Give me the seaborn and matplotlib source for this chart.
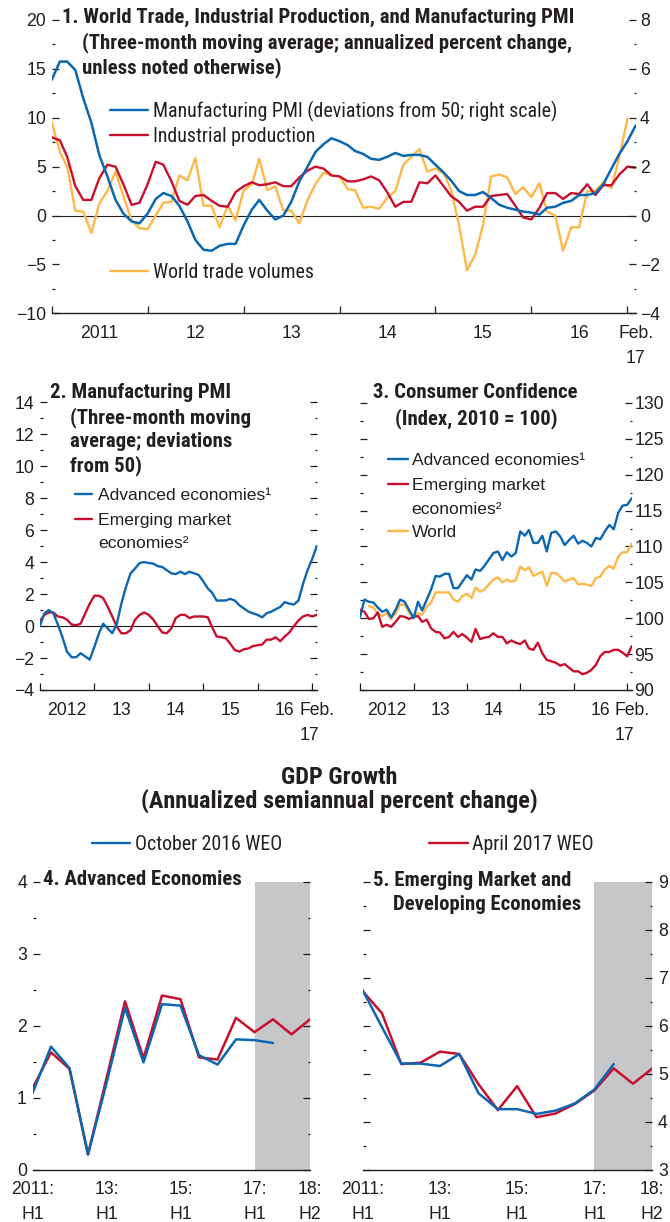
import numpy as np
import pandas as pd
import matplotlib
matplotlib.use('Agg')
import matplotlib.pyplot as plt
import matplotlib.dates as mdates
from matplotlib import font_manager as fm
from matplotlib.lines import Line2D
from matplotlib.ticker import MultipleLocator, NullFormatter
import seaborn as sns

sns.set_style('white')

BLUE = '#0B67B2'
RED = '#C8102E'
YELLOW = '#FDB849'
SHADE = '#C6C7C9'
TXT = '#231F20'

# ---- panel 1: monthly, Jan 2011 - Feb 2017 ----
p1_months = pd.date_range('2011-01-01', periods=74, freq='MS')
pmi_world = [5.55, 6.30, 6.30, 5.95, 4.80, 3.80, 2.48, 1.60, 0.64, 0.08, -0.24, -0.32,
             0.08, 0.68, 0.92, 0.80, 0.40, -0.24, -1.00, -1.40, -1.44, -1.24, -1.16, -1.16,
             -0.40, 0.24, 0.64, 0.20, -0.16, 0.00, 0.56, 1.40, 2.00, 2.60, 2.92, 3.16,
             3.04, 2.88, 2.64, 2.52, 2.32, 2.28, 2.40, 2.56, 2.44, 2.48, 2.48, 2.40,
             2.08, 1.76, 1.44, 1.00, 0.84, 0.84, 0.96, 0.72, 0.44, 0.32, 0.24, 0.16,
             0.12, 0.04, 0.32, 0.36, 0.52, 0.60, 0.84, 0.84, 0.92, 1.28, 1.92, 2.52,
             3.04, 3.68]
ind_prod = [8.0, 7.7, 6.0, 3.0, 1.6, 1.6, 3.8, 5.2, 5.0, 3.2, 1.1, 1.3,
            3.2, 5.5, 5.2, 3.5, 1.5, 1.1, 2.0, 2.1, 1.5, 1.0, 0.9, 2.4,
            3.0, 3.4, 3.1, 3.2, 3.4, 3.0, 3.0, 3.9, 4.6, 5.0, 4.8, 4.1,
            4.0, 3.5, 3.5, 3.7, 4.0, 3.6, 2.4, 0.9, 1.4, 1.4, 3.4, 3.3,
            4.1, 3.0, 2.0, 1.4, 0.5, 0.9, 0.9, 2.0, 2.1, 2.2, 1.0, -0.2,
            -0.4, 0.8, 2.3, 2.3, 1.7, 2.3, 2.2, 3.2, 2.1, 3.1, 3.1, 4.2,
            5.0, 4.9]
trade = [9.6, 6.5, 5.0, 0.5, 0.4, -1.8, 1.2, 2.5, 4.5, 2.0, -0.5, -1.3,
         -1.4, 0.0, 1.3, 1.4, 4.1, 3.6, 5.9, 1.0, 1.0, -1.2, 1.0, -0.5,
         2.6, 3.2, 5.8, 2.6, 3.0, 0.5, 0.5, -0.8, 1.6, 3.2, 4.4, 4.1,
         4.0, 2.7, 2.6, 0.8, 0.9, 0.7, 1.8, 2.5, 5.2, 6.0, 6.8, 4.5,
         4.8, 4.3, 2.7, -1.0, -5.6, -4.0, -1.0, 4.0, 4.2, 3.9, 2.2, 2.9,
         1.9, 3.3, 0.4, 0.0, -3.6, -1.2, -1.2, 2.5, 2.5, 3.4, 2.8, 6.0,
         9.9, np.nan]
p1_years = ['2011', '12', '13', '14', '15', '16']

# ---- panels 2 and 3: monthly, Jan 2012 - Feb 2017 ----
p23_months = pd.date_range('2012-01-01', periods=62, freq='MS')
pmi_adv = [0.0, 0.8, 1.0, 0.8, 0.1, -0.7, -1.6, -1.95, -1.95, -1.7, -1.9, -2.1,
           -1.3, -0.45, 0.15, -0.15, -0.45, 0.15, 1.4, 2.45, 3.3, 3.6, 3.95, 4.0,
           3.95, 3.9, 3.75, 3.7, 3.5, 3.3, 3.25, 3.4, 3.25, 3.4, 3.3, 3.2,
           2.8, 2.35, 2.1, 1.6, 1.6, 1.6, 1.7, 1.6, 1.3, 1.1, 0.9, 0.8,
           0.7, 0.55, 0.8, 0.9, 1.05, 1.2, 1.5, 1.4, 1.35, 1.6, 2.65, 3.5,
           4.2, 5.0]
pmi_em = [0.3, 0.7, 0.85, 0.85, 0.6, 0.55, 0.4, 0.1, 0.05, 0.15, 0.8, 1.4,
          1.9, 1.9, 1.75, 1.2, 0.6, -0.05, -0.45, -0.45, -0.25, 0.4, 0.7, 0.85,
          0.7, 0.4, 0.0, -0.4, -0.45, -0.15, 0.5, 0.7, 0.7, 0.5, 0.6, 0.6,
          0.6, 0.55, -0.05, -0.65, -0.7, -0.75, -1.1, -1.5, -1.6, -1.45, -1.4, -1.25,
          -1.2, -1.15, -0.85, -0.85, -0.7, -0.95, -0.65, -0.4, 0.0, 0.35, 0.6, 0.7,
          0.6, 0.7]
cc_adv = [100.2, 102.6, 102.3, 102.2, 101.5, 100.9, 101.2, 100.1, 101.2, 102.6, 102.3, 101.2,
          100.0, 102.3, 101.1, 102.6, 104.0, 105.9, 105.8, 106.2, 106.2, 104.2, 104.2, 105.1,
          106.0, 105.4, 106.8, 106.6, 107.3, 108.2, 109.1, 109.3, 108.1, 109.2, 108.6, 109.1,
          112.1, 111.5, 112.3, 110.5, 110.5, 111.5, 109.3, 111.9, 112.1, 111.4, 110.2, 110.9,
          111.5, 110.4, 110.8, 110.5, 110.0, 111.2, 111.0, 112.1, 113.0, 112.4, 114.7, 115.7,
          115.8, 116.7]
cc_em = [101.2, 100.9, 99.9, 100.0, 100.8, 98.8, 99.1, 98.8, 99.5, 100.3, 100.2, 99.9,
         100.2, 100.3, 99.5, 99.8, 98.6, 98.1, 98.0, 97.2, 97.4, 98.1, 97.4, 97.8,
         97.3, 96.7, 98.5, 97.1, 97.3, 97.4, 97.9, 97.4, 97.4, 96.5, 96.9, 96.6,
         96.4, 96.9, 95.8, 95.6, 96.6, 95.1, 94.2, 94.0, 93.8, 93.4, 93.6, 93.1,
         92.6, 92.6, 92.2, 92.4, 92.8, 93.5, 94.7, 95.3, 95.3, 95.6, 95.6, 95.2,
         94.7, 96.1]
cc_world = [np.nan, np.nan, 101.7, 101.5, 100.7, 100.3, 100.7, 99.9, 100.7, 101.9, 101.9, 100.8,
            100.2, 100.7, 100.5, 101.6, 102.2, 103.6, 103.6, 103.6, 103.6, 102.6, 102.3, 103.1,
            103.4, 102.8, 104.3, 103.7, 104.0, 104.7, 105.4, 105.7, 105.0, 105.4, 105.1, 105.3,
            107.2, 106.7, 107.1, 105.9, 106.2, 106.5, 104.5, 106.3, 106.3, 105.8, 105.1, 105.4,
            105.6, 104.7, 104.8, 104.7, 104.5, 105.6, 105.8, 106.8, 107.3, 106.9, 108.6, 109.2,
            109.2, 110.4]
p23_years = ['2012', '13', '14', '15', '16']

# ---- panels 4 and 5: semiannual GDP growth ----
periods = ['2011H1', '2011H2', '2012H1', '2012H2', '2013H1', '2013H2', '2014H1', '2014H2',
           '2015H1', '2015H2', '2016H1', '2016H2', '2017H1', '2017H2', '2018H1', '2018H2']
period_labels = {'2011H1': '2011:\nH1', '2013H1': '13:\nH1', '2015H1': '15:\nH1',
                 '2017H1': '17:\nH1', '2018H2': '18:\nH2'}
adv_apr17 = [1.13, 1.63, 1.40, 0.21, 1.27, 2.34, 1.55, 2.42, 2.37, 1.56, 1.53, 2.11,
             1.91, 2.09, 1.88, 2.09]
adv_oct16 = [1.06, 1.71, 1.41, 0.21, 1.20, 2.25, 1.49, 2.30, 2.28, 1.59, 1.46, 1.81,
             1.80, 1.76, np.nan, np.nan]
emde_apr17 = [6.72, 6.26, 5.20, 5.23, 5.46, 5.41, 4.78, 4.24, 4.74, 4.09, 4.17, 4.37,
              4.65, 5.11, 4.79, 5.11]
emde_oct16 = [6.74, 5.97, 5.21, 5.21, 5.16, 5.41, 4.59, 4.26, 4.26, 4.16, 4.23, 4.38,
              4.67, 5.20, np.nan, np.nan]

# ---- fonts: a condensed face for titles/legends, Liberation Sans for numbers ----
def has_static(name):
    ws = {f.weight for f in fm.fontManager.ttflist if f.name == name and f.style == 'normal'}
    return 400 in ws and 700 in ws


cands = ['Liberation Sans Narrow', 'Nimbus Sans Narrow', 'Arial Narrow', 'Roboto Condensed',
         'IBM Plex Sans Condensed', 'Barlow Semi Condensed', 'Fira Sans Condensed',
         'Asap Condensed']
NARROW = [next((c for c in cands if has_static(c)), 'DejaVu Sans'), 'DejaVu Sans']
WIDE = ['Liberation Sans', 'DejaVu Sans']
plt.rcParams['font.family'] = WIDE

W, H = 670, 1222
TICK = 12.7

fig = plt.figure(figsize=(W / 100, H / 100), dpi=100)
renderer = fig.canvas.get_renderer()


def text_px(s, family, weight):
    t = fig.text(0, 0, s, family=family, fontweight=weight, fontsize=10)
    w = t.get_window_extent(renderer=renderer).width
    t.remove()
    return w


def fit(pairs, family, weight):
    return float(np.median([10 * target / text_px(s, family, weight) for s, target in pairs]))


BOLD_SIZE = fit([('1. World Trade, Industrial Production, and Manufacturing PMI', 513),
                 ('4. Advanced Economies', 198),
                 ('3. Consumer Confidence', 205),
                 ('(Three-month moving', 183)], NARROW, 'bold')
HEAD_SIZE = fit([('GDP Growth', 116),
                 ('(Annualized semiannual percent change)', 395)], NARROW, 'bold')
REG_SIZE = fit([('Manufacturing PMI (deviations from 50; right scale)', 403),
                ('Industrial production', 160),
                ('World trade volumes', 161),
                ('October 2016 WEO', 146),
                ('April 2017 WEO', 124)], NARROW, 'normal')
LEG23_SIZE = fit([('Advanced economies\u00b9', 172), ('Emerging market', 135)], WIDE, 'normal')


def box(x0, y0, x1, y1):
    return [x0 / W, 1 - y1 / H, (x1 - x0) / W, (y1 - y0) / H]


def ptxt(x, y, s, size, bold=False, family=NARROW, ha='left'):
    fig.text(x / W, 1 - (y - 1) / H, s, fontsize=size, fontweight='bold' if bold else 'normal',
             family=family, color=TXT, va='center', ha=ha)


def legend_row(color, label, x0, x1, xt, y, size, family):
    size_px = size * 100 / 72
    fig.legend(handles=[Line2D([], [], color=color, lw=1.7)], labels=[label],
               loc='center left', bbox_to_anchor=(x0 / W, 1 - (y - 1) / H),
               frameon=False, borderpad=0, borderaxespad=0,
               handlelength=(x1 - x0) / size_px, handletextpad=(xt - x1) / size_px,
               prop={'family': family, 'size': size}, labelcolor=TXT)


def clean(ax):
    for s in ['left', 'right', 'top']:
        ax.spines[s].set_visible(False)
    ax.spines['bottom'].set_color(TXT)
    ax.spines['bottom'].set_linewidth(1.0)
    ax.set_xlabel('')
    ax.set_ylabel('')


def yaxis(ax, lo, hi, major, minor, left, right, labelleft, labelright, pad=3.5):
    ax.set_ylim(lo, hi)
    ax.yaxis.set_major_locator(MultipleLocator(major))
    ax.yaxis.set_minor_locator(MultipleLocator(minor))
    ax.tick_params(axis='y', which='both', direction='in', left=left, right=right,
                   labelleft=labelleft, labelright=labelright, color=TXT,
                   labelcolor=TXT, labelsize=TICK, labelfontfamily=WIDE, pad=pad)
    ax.tick_params(axis='y', which='major', length=5, width=0.9)
    ax.tick_params(axis='y', which='minor', length=1.8, width=0.9)


def date_xaxis(ax, start, end, years, first_year, feb_align):
    ax.set_xlim(pd.Timestamp(start), pd.Timestamp(end))
    ax.xaxis.set_major_locator(mdates.YearLocator())
    ax.xaxis.set_major_formatter(NullFormatter())
    ax.tick_params(axis='x', which='major', direction='in', length=5, width=0.9,
                   color=TXT, top=False, bottom=True)
    pos = [mdates.date2num(pd.Timestamp(f'{first_year + i}-07-01')) for i in range(len(years))]
    pos.append(mdates.date2num(pd.Timestamp('2017-02-01')))
    ax.set_xticks(pos, years + ['Feb.\n17'], minor=True)
    ax.tick_params(axis='x', which='minor', length=0, labelsize=TICK, labelcolor=TXT,
                   labelfontfamily=WIDE, pad=8.5)
    lab = ax.xaxis.get_minorticklabels()[-1]
    lab.set_multialignment(feb_align)
    lab.set_linespacing(1.6)


# ================= Panel 1 =================
ax1 = fig.add_axes(box(51.7, 20, 635.6, 313.3))
df1 = pd.DataFrame({'date': p1_months, 'World trade volumes': trade,
                    'Industrial production': ind_prod})
long1 = df1.melt('date', var_name='series', value_name='value').dropna()
ax1.axhline(0, color=TXT, lw=0.8, zorder=1)
sns.lineplot(data=long1, x='date', y='value', hue='series',
             hue_order=['World trade volumes', 'Industrial production'],
             palette=[YELLOW, RED], lw=1.7, legend=False, ax=ax1)
ax1b = ax1.twinx()
sns.lineplot(x=p1_months, y=pmi_world, color=BLUE, lw=1.8, ax=ax1b)
clean(ax1)
clean(ax1b)
ax1b.spines['bottom'].set_visible(False)
yaxis(ax1, -10, 20, 5, 2.5, True, False, True, False, pad=4)
yaxis(ax1b, -4, 8, 2, 1, False, True, False, True, pad=3)
date_xaxis(ax1, '2011-01-01', '2017-02-01', p1_years, 2011, 'center')

ptxt(61.7, 18.3, '1. World Trade, Industrial Production, and Manufacturing PMI', BOLD_SIZE, True)
ptxt(81.7, 43.3, '(Three-month moving average; annualized percent change,', BOLD_SIZE, True)
ptxt(81.7, 68.3, 'unless noted otherwise)', BOLD_SIZE, True)
legend_row(BLUE, 'Manufacturing PMI (deviations from 50; right scale)', 110, 148, 153.3, 112.3,
           REG_SIZE, NARROW)
legend_row(RED, 'Industrial production', 110, 148, 153.3, 137.7, REG_SIZE, NARROW)
legend_row(YELLOW, 'World trade volumes', 110, 148, 153.3, 273.3, REG_SIZE, NARROW)

# ================= Panel 2 =================
ax2 = fig.add_axes(box(39.8, 402.3, 316.8, 690))
df2 = pd.DataFrame({'date': p23_months, 'Emerging market economies': pmi_em,
                    'Advanced economies': pmi_adv})
long2 = df2.melt('date', var_name='series', value_name='value')
ax2.axhline(0, color=TXT, lw=0.8, zorder=1)
sns.lineplot(data=long2, x='date', y='value', hue='series',
             hue_order=['Emerging market economies', 'Advanced economies'],
             palette=[RED, BLUE], lw=1.7, legend=False, ax=ax2)
clean(ax2)
yaxis(ax2, -4, 14, 2, 1, True, True, True, False, pad=4)
date_xaxis(ax2, '2012-01-01', '2017-02-01', p23_years, 2012, 'left')

ptxt(50, 393.3, '2. Manufacturing PMI', BOLD_SIZE, True)
ptxt(70, 418.3, '(Three-month moving', BOLD_SIZE, True)
ptxt(70, 442.7, 'average; deviations', BOLD_SIZE, True)
ptxt(70, 466.7, 'from 50)', BOLD_SIZE, True)
legend_row(BLUE, 'Advanced economies\u00b9', 75, 91.7, 98.3, 496.7, LEG23_SIZE, WIDE)
legend_row(RED, 'Emerging market', 75, 91.7, 98.3, 521.7, LEG23_SIZE, WIDE)
ptxt(98.3, 545, 'economies\u00b2', LEG23_SIZE, family=WIDE)

# ================= Panel 3 =================
ax3 = fig.add_axes(box(360, 403, 631.7, 690))
df3 = pd.DataFrame({'date': p23_months, 'World': cc_world,
                    'Emerging market economies': cc_em, 'Advanced economies': cc_adv})
long3 = df3.melt('date', var_name='series', value_name='value').dropna()
sns.lineplot(data=long3, x='date', y='value', hue='series',
             hue_order=['World', 'Emerging market economies', 'Advanced economies'],
             palette=[YELLOW, RED, BLUE], lw=1.7, legend=False, ax=ax3)
clean(ax3)
yaxis(ax3, 90, 130, 5, 2.5, True, True, False, True, pad=2)
date_xaxis(ax3, '2012-01-01', '2017-02-01', p23_years, 2012, 'left')

ptxt(373.3, 393.3, '3. Consumer Confidence', BOLD_SIZE, True)
ptxt(395, 420, '(Index, 2010 = 100)', BOLD_SIZE, True)
legend_row(BLUE, 'Advanced economies\u00b9', 388.3, 408.3, 411.7, 461.7, LEG23_SIZE, WIDE)
legend_row(RED, 'Emerging market', 388.3, 408.3, 411.7, 486.7, LEG23_SIZE, WIDE)
ptxt(411.7, 510, 'economies\u00b2', LEG23_SIZE, family=WIDE)
legend_row(YELLOW, 'World', 388.3, 408.3, 411.7, 533.3, LEG23_SIZE, WIDE)

# ================= GDP header =================
ptxt(339, 778.3, 'GDP Growth', HEAD_SIZE, True, ha='center')
ptxt(339, 801.7, '(Annualized semiannual percent change)', HEAD_SIZE, True, ha='center')
legend_row(BLUE, 'October 2016 WEO', 91.7, 130, 135, 845, REG_SIZE, NARROW)
legend_row(RED, 'April 2017 WEO', 429, 468, 472, 845, REG_SIZE, NARROW)


def gdp_panel(rect, apr, octo, lo, hi, labelleft, labelright):
    ax = fig.add_axes(rect)
    half = [int(p[:4]) + (int(p[-1]) - 1) / 2 for p in periods]
    ax.axvspan(2017.0, 2018.5, color=SHADE, lw=0, zorder=0)
    dfg = pd.DataFrame({'half': half * 2, 'value': apr + octo,
                        'vintage': ['April 2017 WEO'] * len(half) + ['October 2016 WEO'] * len(half)})
    sns.lineplot(data=dfg.dropna(), x='half', y='value', hue='vintage',
                 hue_order=['April 2017 WEO', 'October 2016 WEO'], palette=[RED, BLUE],
                 lw=1.8, legend=False, ax=ax)
    clean(ax)
    yaxis(ax, lo, hi, 1, 0.5, True, True, labelleft, labelright, pad=4)
    ax.set_xlim(2011, 2018.5)
    ax.set_xticks(half, [period_labels.get(p, '') for p in periods])
    ax.tick_params(axis='x', which='major', direction='in', length=5, width=0.9, color=TXT,
                   labelsize=TICK, labelcolor=TXT, labelfontfamily=WIDE, pad=8.5)
    for lab in ax.get_xticklabels():
        lab.set_linespacing(1.56)
    return ax


ax4 = gdp_panel(box(32.5, 882, 310, 1169.5), adv_apr17, adv_oct16, 0, 4, True, False)
ptxt(43.3, 880.5, '4. Advanced Economies', BOLD_SIZE, True)
ax5 = gdp_panel(box(362.7, 882, 652.3, 1169.5), emde_apr17, emde_oct16, 3, 9, False, True)
ptxt(372.7, 881.7, '5. Emerging Market and', BOLD_SIZE, True)
ptxt(393.3, 906, 'Developing Economies', BOLD_SIZE, True)

fig.savefig('out.png', dpi=100)
